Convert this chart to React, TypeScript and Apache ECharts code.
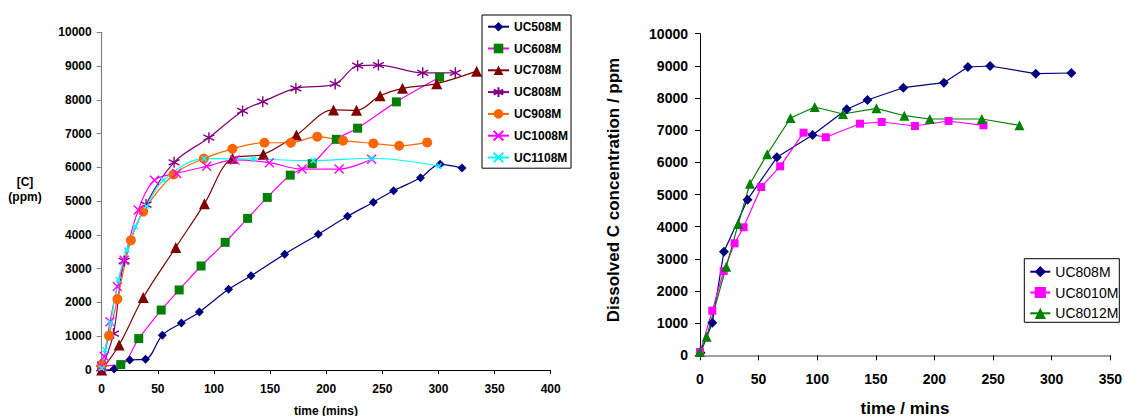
import React, { useEffect, useRef } from "react";
import * as echarts from "echarts";

const FONT = "'Liberation Sans', Arial, Helvetica, sans-serif";

// ---------- Left chart data: [time (mins), [C] (ppm)] ----------
const leftNames = ["UC508M", "UC608M", "UC708M", "UC808M", "UC908M", "UC1008M", "UC1108M"];
const uc508m = [[0, 0], [11, 30], [25, 296], [39, 316], [54, 1030], [71, 1390], [87, 1720], [113, 2390], [133, 2790], [163, 3430], [193, 4020], [219, 4550], [242, 4970], [260, 5310], [284, 5690], [301.5, 6090], [321, 5980]];
const uc608m = [[0, 130], [17, 160], [33, 930], [53, 1775], [69, 2370], [88.5, 3080], [110, 3780], [130, 4490], [147.5, 5110], [168, 5770], [187.5, 6110], [209, 6830], [228, 7160], [262.5, 7940], [301, 8670]];
const uc708m = [[0, 0], [15.5, 740], [37, 2145], [66, 3630], [91.5, 4920], [116.5, 6270], [144, 6390], [173.5, 6960], [206.5, 7700], [227, 7690], [248, 8120], [268, 8340], [298.5, 8480], [334, 8850]];
const uc808m = [[0, 50], [10.5, 1080], [20, 3230], [39.5, 4900], [64.5, 6150], [95.5, 6880], [125.5, 7670], [143.5, 7945], [173, 8340], [208, 8470], [228, 9010], [246.5, 9030], [286, 8800], [315, 8800]];
const uc908m = [[0, 150], [6.5, 1017], [14, 2100], [26, 3840], [37, 4690], [64, 5790], [91, 6260], [116.5, 6550], [145, 6730], [168.5, 6730], [192, 6910], [215, 6790], [242, 6710], [265, 6640], [290, 6740]];
const uc1008m = [[0, 100], [2.3, 400], [7.4, 1430], [13.9, 2470], [20, 3250], [32.6, 4740], [47, 5620], [66.8, 5820], [93.5, 6030], [118.7, 6220], [149.3, 6140], [178.5, 5950], [211.5, 5950], [240.5, 6240]];
const uc1108m = [[0, 50], [3, 600], [8, 1400], [14.8, 2670], [22.3, 3550], [30, 4250], [40, 4850], [55, 5620], [91.4, 6260], [135, 6250], [188.5, 6200], [240.5, 6270], [300.5, 6040]];

// ---------- Right chart data: [time / mins, dissolved C / ppm] ----------
const rightNames = ["UC808M", "UC8010M", "UC8012M"];
const r808m = [[0.5, 80], [10.5, 1014], [20.4, 3222], [40.5, 4840], [65.6, 6157], [96, 6850], [125.2, 7649], [142.8, 7939], [173.4, 8321], [208, 8476], [228.5, 8965], [247.5, 8996], [286.4, 8756], [316.8, 8778]];
const r8010m = [[0, 100], [10.5, 1387], [20.2, 2621], [29.5, 3483], [37.2, 3980], [52.2, 5233], [68.4, 5877], [88.3, 6922], [107.3, 6779], [136.5, 7202], [155, 7255], [183.3, 7130], [212, 7286], [241.8, 7152]];
const r8012m = [[0, 100], [5.7, 578], [22.4, 2755], [32.6, 4083], [42.6, 5336], [57.3, 6250], [77.2, 7379], [97.9, 7721], [122, 7503], [150.5, 7680], [174.3, 7450], [196.1, 7348], [240.4, 7348], [272.5, 7152]];

const leftXTicks = { min: 0, max: 400, interval: 50 };
const rightXTicks = { min: 0, max: 350, interval: 50 };
const yTicks = { min: 0, max: 10000, interval: 1000 };

const ASTERISK = "path://M0,-10L0,10M-8.66,-5L8.66,5M-8.66,5L8.66,-5";
const CROSS = "path://M-5,-5L5,5M-5,5L5,-5";

// internal keys for the right-hand chart so its legend does not collide with the left one
const RK = "R|";
const rightKeys = rightNames.map((n) => RK + n);

function lineSeries(name: string, data: number[][], opts: any) {
  const { symbol, size, markerColor, lineColor, stroke, grid, smooth, markerStroke } = opts;
  const idx = grid;
  return {
    type: "line",
    name,
    data,
    xAxisIndex: idx,
    yAxisIndex: idx,
    smooth: smooth ? 0.35 : false,
    symbol,
    symbolSize: size,
    showAllSymbol: true,
    lineStyle: { color: lineColor, width: 1.2 },
    itemStyle: stroke
      ? { color: "rgba(0,0,0,0)", borderColor: markerColor, borderWidth: markerStroke || 1.4 }
      : { color: markerColor, borderWidth: 0 },
    emphasis: { disabled: true },
  };
}

const plain = (v: number) => String(v);

export default function App() {
  const ref = useRef<HTMLDivElement>(null);
  useEffect(() => {
    if (!ref.current) return;
    const chart = echarts.init(ref.current, undefined, { renderer: "svg" });
    const axisLabelL = { fontFamily: FONT, fontSize: 12, fontWeight: "bold", color: "#000", formatter: plain };
    const axisLabelR = { fontFamily: FONT, fontSize: 14, fontWeight: "bold", color: "#000", formatter: plain };
    const option: any = {
      animation: false,
      backgroundColor: "#fff",
      grid: [
        { left: 101.7, top: 32.3, width: 449, height: 337.7, containLabel: false },
        { left: 700, top: 33.7, width: 411, height: 321.6, containLabel: false },
      ],
      xAxis: [
        {
          type: "value", gridIndex: 0, ...leftXTicks,
          axisLine: { show: true, onZero: false, lineStyle: { color: "#000", width: 1 } },
          axisTick: { show: true, length: 4, lineStyle: { color: "#000" } },
          axisLabel: { ...axisLabelL, margin: 13 },
          splitLine: { show: false },
        },
        {
          type: "value", gridIndex: 1, ...rightXTicks,
          axisLine: { show: true, onZero: false, lineStyle: { color: "#808080", width: 1.5 } },
          axisTick: { show: true, length: 5, lineStyle: { color: "#000" } },
          axisLabel: { ...axisLabelR, margin: 17 },
          splitLine: { show: false },
        },
      ],
      yAxis: [
        {
          type: "value", gridIndex: 0, ...yTicks,
          axisLine: { show: true, onZero: false, lineStyle: { color: "#808080", width: 1.2 } },
          axisTick: { show: true, length: 5, lineStyle: { color: "#808080" } },
          axisLabel: { ...axisLabelL, margin: 10 },
          splitLine: { show: false },
        },
        {
          type: "value", gridIndex: 1, ...yTicks,
          axisLine: { show: true, onZero: false, lineStyle: { color: "#000", width: 1 } },
          axisTick: { show: true, length: 5, lineStyle: { color: "#000" } },
          axisLabel: { ...axisLabelR, margin: 12 },
          splitLine: { show: false },
        },
      ],
      legend: [
        {
          data: leftNames,
          orient: "vertical",
          left: 482,
          top: 15,
          padding: [5.7, 3, 4.7, 5],
          itemWidth: 21,
          itemHeight: 12,
          itemGap: 9.8,
          borderColor: "#000",
          borderWidth: 1,
          backgroundColor: "#fff",
          textStyle: { fontFamily: FONT, fontSize: 12, fontWeight: "bold", color: "#000" },
          selectedMode: false,
        },
        {
          data: rightKeys,
          formatter: (name: string) => name.replace(RK, ""),
          orient: "vertical",
          left: 1024.3,
          top: 258.7,
          padding: [6, 1, 2, 5],
          itemWidth: 20,
          itemHeight: 14,
          itemGap: 6.8,
          borderColor: "#000",
          borderWidth: 1,
          backgroundColor: "#fff",
          textStyle: { fontFamily: FONT, fontSize: 14, color: "#000" },
          selectedMode: false,
        },
      ],
      graphic: [
        { type: "text", x: 25, y: 182, style: { text: "[C]", font: `bold 12px ${FONT}`, fill: "#000", align: "center", verticalAlign: "middle" } },
        { type: "text", x: 25, y: 197, style: { text: "(ppm)", font: `bold 12px ${FONT}`, fill: "#000", align: "center", verticalAlign: "middle" } },
        { type: "text", x: 326, y: 410.5, style: { text: "time (mins)", font: `bold 12px ${FONT}`, fill: "#000", align: "center", verticalAlign: "middle" } },
        { type: "text", x: 905, y: 408, style: { text: "time / mins", font: `bold 17px ${FONT}`, fill: "#000", align: "center", verticalAlign: "middle" } },
        { type: "text", x: 613, y: 190, rotation: Math.PI / 2, style: { text: "Dissolved C concentration / ppm", font: `bold 17px ${FONT}`, fill: "#000", align: "center", verticalAlign: "middle" } },
      ],
      series: [
        lineSeries("UC508M", uc508m, { grid: 0, smooth: true, symbol: "diamond", size: 9, markerColor: "#000080", lineColor: "#000080" }),
        lineSeries("UC608M", uc608m, { grid: 0, smooth: true, symbol: "rect", size: 9, markerColor: "#008000", lineColor: "#FF00FF" }),
        lineSeries("UC708M", uc708m, { grid: 0, smooth: true, symbol: "triangle", size: 11, markerColor: "#800000", lineColor: "#800000" }),
        lineSeries("UC808M", uc808m, { grid: 0, smooth: true, symbol: ASTERISK, size: 11, markerColor: "#800080", lineColor: "#800080", stroke: true }),
        lineSeries("UC908M", uc908m, { grid: 0, smooth: true, symbol: "circle", size: 10, markerColor: "#FF6600", lineColor: "#FF6600" }),
        lineSeries("UC1008M", uc1008m, { grid: 0, smooth: true, symbol: CROSS, size: 9, markerColor: "#FF00FF", lineColor: "#FF00FF", stroke: true }),
        lineSeries("UC1108M", uc1108m, { grid: 0, smooth: true, symbol: CROSS, size: 5, markerColor: "#00FFFF", lineColor: "#00FFFF", stroke: true, markerStroke: 1.5 }),
        lineSeries(rightKeys[0], r808m, { grid: 1, smooth: false, symbol: "diamond", size: 10, markerColor: "#000080", lineColor: "#000080" }),
        lineSeries(rightKeys[1], r8010m, { grid: 1, smooth: false, symbol: "rect", size: 8, markerColor: "#FF00FF", lineColor: "#FF00FF" }),
        lineSeries(rightKeys[2], r8012m, { grid: 1, smooth: false, symbol: "triangle", size: 10, markerColor: "#008000", lineColor: "#008000" }),
      ],
    };
    chart.setOption(option);
    return () => chart.dispose();
  }, []);
  return (
    <div
      ref={ref}
      style={{ position: "absolute", left: 0, top: 0, width: 1125, height: 416, background: "#fff" }}
    />
  );
}
